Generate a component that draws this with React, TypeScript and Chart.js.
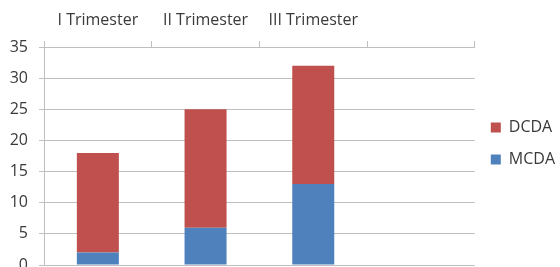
import React, { useEffect, useRef } from "react";
import { Chart, registerables } from "chart.js";

Chart.register(...registerables);

const categories = ["I Trimester", "II Trimester", "III Trimester", ""];
const mcdaValues = [2, 6, 13, null];
const dcdaValues = [16, 19, 19, null];
const yMin = 0;
const yMax = 35;
const yStep = 5;

const FONT = "'Open Sans', 'Liberation Sans', sans-serif";
const TEXT = "#3a3a3a";
const GRID = "#bfbfbf";

export default function App() {
  const ref = useRef<HTMLCanvasElement | null>(null);

  useEffect(() => {
    if (!ref.current) return;
    const chart = new Chart(ref.current, {
      type: "bar",
      data: {
        labels: categories,
        datasets: [
          {
            label: "MCDA",
            data: mcdaValues,
            backgroundColor: "#4F81BD",
            categoryPercentage: 1,
            barPercentage: 0.39,
          },
          {
            label: "DCDA",
            data: dcdaValues,
            backgroundColor: "#C0504D",
            categoryPercentage: 1,
            barPercentage: 0.39,
          },
        ],
      },
      options: {
        responsive: false,
        animation: false,
        devicePixelRatio: 1,
        layout: { padding: { left: 0, top: 0, right: -5, bottom: 25 } },
        plugins: {
          tooltip: { enabled: false },
          legend: {
            position: "right",
            reverse: true,
            title: {
              display: true,
              text: " ",
              font: { family: FONT, size: 10 },
              padding: 5,
            },
            labels: {
              boxWidth: 10,
              boxHeight: 10,
              padding: 16,
              color: TEXT,
              font: { family: FONT, size: 16 },
            },
          },
        },
        scales: {
          x: {
            position: "top",
            stacked: true,
            grid: {
              offset: true,
              drawOnChartArea: false,
              drawTicks: true,
              tickLength: 6,
              color: GRID,
            },
            border: { display: true, color: GRID },
            ticks: {
              color: TEXT,
              font: { family: FONT, size: 16 },
              padding: 11,
              maxRotation: 0,
            },
            afterFit: (s: any) => {
              s.height = 47;
            },
          },
          y: {
            stacked: true,
            min: yMin,
            max: yMax,
            ticks: {
              stepSize: yStep,
              color: TEXT,
              font: { family: FONT, size: 16 },
              padding: 11,
            },
            grid: { color: GRID, tickLength: 5 },
            border: { display: true, color: GRID },
            afterFit: (s: any) => {
              s.width = 44;
            },
          },
        },
      },
    });
    return () => chart.destroy();
  }, []);

  return (
    <div style={{ position: "absolute", left: 0, top: 0, width: 560, height: 267, overflow: "hidden", background: "#fff" }}>
      <canvas ref={ref} width={560} height={290} style={{ display: "block" }} />
    </div>
  );
}
